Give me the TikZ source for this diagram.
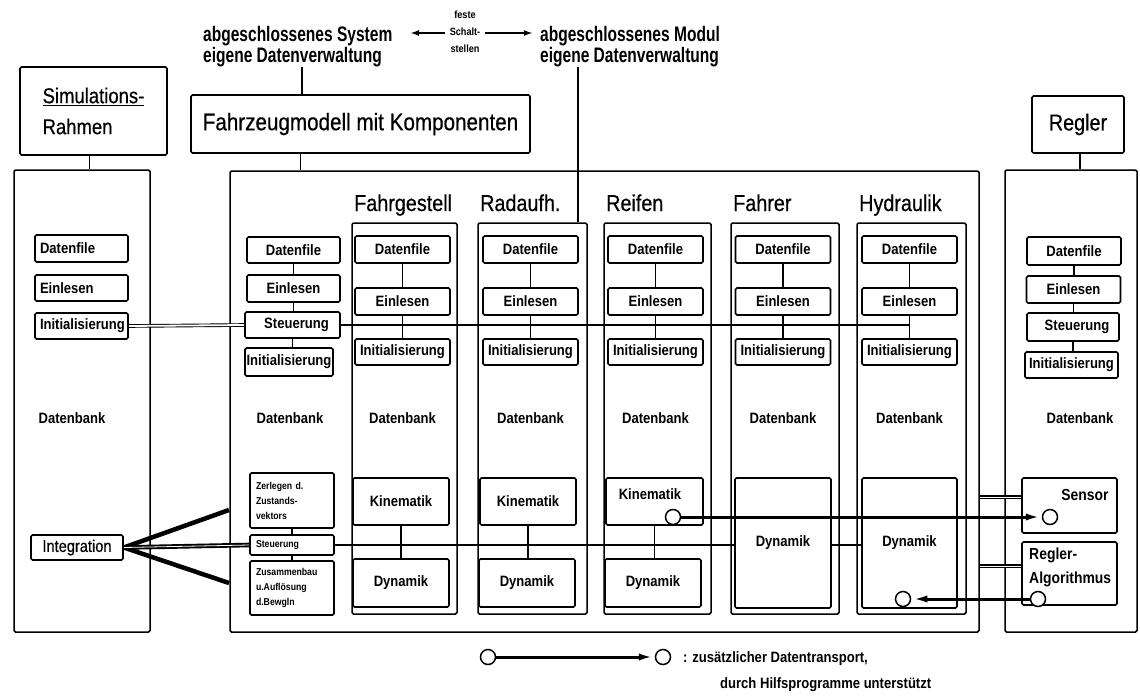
\documentclass[tikz,border=0pt]{standalone}
\usepackage{fontspec}
\setmainfont{Liberation Sans}
\newfontfamily\ttlfont[FakeStretch=0.86, FakeBold=0.5]{Liberation Sans}
\newfontfamily\lblfont[FakeStretch=0.87]{Liberation Sans}
\newfontfamily\topfont[FakeStretch=0.74]{Liberation Sans}
\usetikzlibrary{arrows.meta}

% upper part of one component column: frame, title, data file chain, Datenbank
\newcommand\modtop[4]{%
  \pgfmathsetmacro\mcx{(#2+#3)/2-2}
  \node[frame, minimum width=#3-#2, minimum height=391] (#1) at ({(#2+#3)/2},418.5) {};
  \node[ttl] (#1t) at (#2+2,211) {#4};
  \node[box, minimum width=95, minimum height=27] (#1df) at (\mcx,249.5) {Datenfile};
  \node[box, minimum width=95, minimum height=27] (#1ei) at (\mcx,301.5) {Einlesen};
  \node[box, minimum width=95, minimum height=26] (#1in) at (\mcx,352) {Initialisierung};
  \node[lbl] (#1db) at (\mcx,418) {Datenbank};
  \draw[link] (#1df.south) -- (#1df.south |- #1ei.north);
  \draw[link] (#1ei.south) -- (#1ei.south |- #1in.north);
}

\begin{document}
\begin{tikzpicture}[x=1pt,y=-1pt,
  every node/.style={inner sep=0pt},
  frame/.style={draw, line width=1.5pt, rounded corners=1.5pt},
  box/.style={draw, line width=1.6pt, rounded corners=1.5pt,
    font=\lblfont\bfseries\fontsize{15}{17}\selectfont},
  hdbox/.style={draw, line width=1.6pt, rounded corners=1.5pt,
    font=\ttlfont\fontsize{23}{31}\selectfont},
  ttl/.style={font=\ttlfont\fontsize{23}{28}\selectfont, anchor=base west},
  lbl/.style={font=\lblfont\bfseries\fontsize{15}{17}\selectfont},
  lblL/.style={font=\lblfont\bfseries\fontsize{16}{24}\selectfont, align=left},
  tiny/.style={font=\lblfont\bfseries\fontsize{10}{15}\selectfont, align=left},
  toptext/.style={font=\topfont\bfseries\fontsize{21}{21}\selectfont, align=left, anchor=base west},
  leftbox/.style={box, inner xsep=5pt, text width=83, align=left, minimum height=26},
  link/.style={line width=1.3pt},
  dbl/.style={double, line width=0.9pt, double distance=1.8pt},
  heavy/.style={double, line width=1.5pt, double distance=1pt},
  fan/.style={line width=4.5pt},
  port/.style={circle, draw, fill=white, line width=1.5pt, minimum size=15pt},
  xfer/.style={line width=3pt, -{Latex[length=16pt,width=7pt]}},
  arr/.style={line width=2pt, -{Latex[length=9pt,width=6pt]}}
]
\useasboundingbox (0,0) rectangle (1140,699);

% ---- headline with the two kinds of interfaces (anchored on the second line)
\node[toptext] (sysL) at (203,62) {abgeschlossenes System\\eigene Datenverwaltung};
\node[toptext] (modR) at (540,62) {abgeschlossenes Modul\\eigene Datenverwaltung};
\node[font=\lblfont\bfseries\fontsize{10.5}{17}\selectfont, align=center] (sch) at (465,32) {feste\\Schalt-\\stellen};
\coordinate (aL) at (410,33);
\coordinate (aR) at (533,33);
\draw[arr] ([xshift=-5pt]sch.west |- aL) -- (aL);
\draw[arr] ([xshift=5pt]sch.east |- aR) -- (aR);

% ---- top level blocks
\node[hdbox, minimum width=147, minimum height=88, align=left,
  font=\ttlfont\fontsize{21.5}{31}\selectfont] (sim) at (93.5,111)
  {\underline{Simulations-}\\Rahmen};
\node[hdbox, minimum width=339, minimum height=58,
  font=\ttlfont\fontsize{24}{30}\selectfont] (fzm) at (360.5,124)
  {Fahrzeugmodell mit Komponenten};
\node[hdbox, minimum width=92, minimum height=57] (reg) at (1078,124.5) {Regler};

% ---- the three large frames
\node[frame, minimum width=136, minimum height=462] (lcol) at (82,401) {};
\node[frame, minimum width=749, minimum height=461] (big) at (604.5,401.5) {};
\node[frame, minimum width=132, minimum height=462] (rcol) at (1071,401) {};

\draw[link] ([xshift=-4pt]sim.south) -- ([xshift=-4pt]sim.south |- lcol.north);
\draw[link] ([xshift=99pt]sysL.south west) -- ([xshift=99pt]sysL.south west |- fzm.north);
\draw[link] ([xshift=-60pt]fzm.south) -- ([xshift=-60pt]fzm.south |- big.north);
\draw[link] ([xshift=2pt]reg.south) -- ([xshift=2pt]reg.south |- rcol.north);

% ---- simulation frame
\node[leftbox, minimum height=27] (ldf) at (81.5,248.5) {Datenfile};
\node[leftbox] (lei) at (81.5,288) {Einlesen};
\node[leftbox] (lin) at (81.5,326) {Initialisierung};
\node[lbl] (ldb) at (72,418) {Datenbank};
\node[draw, line width=1.6pt, rounded corners=1.5pt, minimum width=92, minimum height=25,
  font=\ttlfont\fontsize{17}{20}\selectfont] (lint) at (77,547.5) {Integration};

% ---- vehicle model: common control column
\node[box, minimum width=93, minimum height=26] (fdf) at (293.5,250) {Datenfile};
\node[box, minimum width=93, minimum height=27] (fei) at (293.5,288.5) {Einlesen};
\node[box, minimum width=95, minimum height=26] (fst) at (292.5,325) {\hspace*{8pt}Steuerung};
\node[box, minimum width=88, minimum height=28] (fin) at (289,362) {Initialisierung};
\node[lbl] (fdb) at (290,418) {Datenbank};
\draw[link] (fdf.south) -- (fdf.south |- fei.north);
\draw[link] (fei.south) -- (fei.south |- fst.north);
\draw[link] (fst.south) -- (fst.south |- fin.north);

\node[box, minimum width=84, minimum height=55, tiny, inner xsep=6pt, text width=72] (fzer) at (292,500.5)
  {Zerlegen d.\\Zustands-\\vektors};
\node[box, minimum width=84, minimum height=20, tiny, inner xsep=6pt, text width=72] (fst2) at (292,545) {Steuerung};
\node[box, minimum width=84, minimum height=54, tiny, inner xsep=6pt, text width=72] (fzus) at (292,588)
  {Zusammenbau\\u.Auflösung\\d.Bewgln};
\draw[link] (fzer.south) -- (fzer.south |- fst2.north);
\draw[link] (fst2.south) -- (fst2.south |- fzus.north);

% ---- component columns
\modtop{fg}{352}{457}{Fahrgestell}
\modtop{ra}{478}{587}{Radaufh.}
\modtop{re}{604}{711}{Reifen}
\modtop{fa}{731}{839}{Fahrer}
\modtop{hy}{857}{966}{Hydraulik}

% the module line runs down into the Radaufh. column
\draw[link] ([xshift=38pt]modR.south west) -- ([xshift=38pt]modR.south west |- ra.north);

\node[box, minimum width=96, minimum height=47] (fgk) at (401,501.5) {Kinematik};
\node[box, minimum width=96, minimum height=48] (fgd) at (401,583) {Dynamik};
\node[box, minimum width=96, minimum height=47] (rak) at (528,501.5) {Kinematik};
\node[box, minimum width=96, minimum height=48] (rad) at (527,583) {Dynamik};
\node[box, minimum width=97, minimum height=47] (rek) at (654.5,501.5) {};
\node[lbl] (rekt) at (650,494) {Kinematik};
\node[box, minimum width=96, minimum height=48] (red) at (653,583) {Dynamik};
\node[box, minimum width=96, minimum height=130] (fad) at (783,543) {Dynamik};
\node[box, minimum width=95, minimum height=130] (hyd) at (909.5,543) {Dynamik};
\draw[link] (fgk.south) -- (fgk.south |- fgd.north);
\draw[link] (rak.south) -- (rak.south |- rad.north);
\draw[link] (rek.south) -- (rek.south |- red.north);

% ---- controller frame
\node[box, minimum width=94, minimum height=28] (rdf) at (1074,251) {Datenfile};
\node[box, minimum width=94, minimum height=27] (rei) at (1073.5,289.5) {Einlesen};
\node[box, minimum width=92, minimum height=28] (rst) at (1073,327) {\hspace*{8pt}Steuerung};
\node[box, minimum width=93, minimum height=26] (rin) at (1071.5,365) {Initialisierung};
\node[lbl] (rdb) at (1080,418) {Datenbank};
\draw[link] (rdf.south) -- (rdf.south |- rei.north);
\draw[link] (rei.south) -- (rei.south |- rst.north);
\draw[link] (rst.south) -- (rst.south |- rin.north);

\node[box, minimum width=95, minimum height=55] (rsen) at (1069.5,505.5) {};
\node[lblL] (rsent) at (1085,495) {Sensor};
\node[box, minimum width=95, minimum height=63] (ralg) at (1069.5,573.5) {};
\node[lblL, anchor=west] (ralgt) at (1029,567) {Regler-\\Algorithmus};

% ---- control lines
\draw[link] (fst.east) -- (fst.east -| hyei.south);
\draw[dbl] (lin.east) -- (fst.west);
\draw[link] (fst2.east) -- (fst2.east -| fad.west);
\draw[link] (fad.east |- fst2.east) -- (hyd.west |- fst2.east);

\coordinate (fanU) at (229,510);
\coordinate (fanD) at (229,583);
\draw[fan] (lint.east) -- (fanU);
\draw[fan] (lint.east) -- (fanD);
\draw[double, line width=1.9pt, double distance=0.8pt] (lint.east) -- (fst2.west);

\draw[heavy] ([yshift=8.5pt]rsen.west) -- ([yshift=8.5pt]rsen.west -| big.east);
\draw[heavy] ([yshift=7.5pt]ralg.west) -- ([yshift=7.5pt]ralg.west -| big.east);

% ---- additional data transport
\node[port] (pkin) at (673,517) {};
\node[port] (psen) at (1050,517) {};
\node[port] (palg) at (1038,599) {};
\node[port] (phyd) at (903,599) {};
\draw[xfer] (pkin) -- (psen);
\draw[xfer] (palg) -- (phyd);

% ---- legend
\node[port] (lg1) at (488,657) {};
\node[port] (lg2) at (663,657) {};
\draw[xfer] (lg1) -- (lg2);
\node[lbl, anchor=base west] (lgt1) at (683,662) {: zusätzlicher Datentransport,};
\node[lbl, anchor=base west] (lgt2) at (720,688) {durch Hilfsprogramme unterstützt};
\end{tikzpicture}
\end{document}
